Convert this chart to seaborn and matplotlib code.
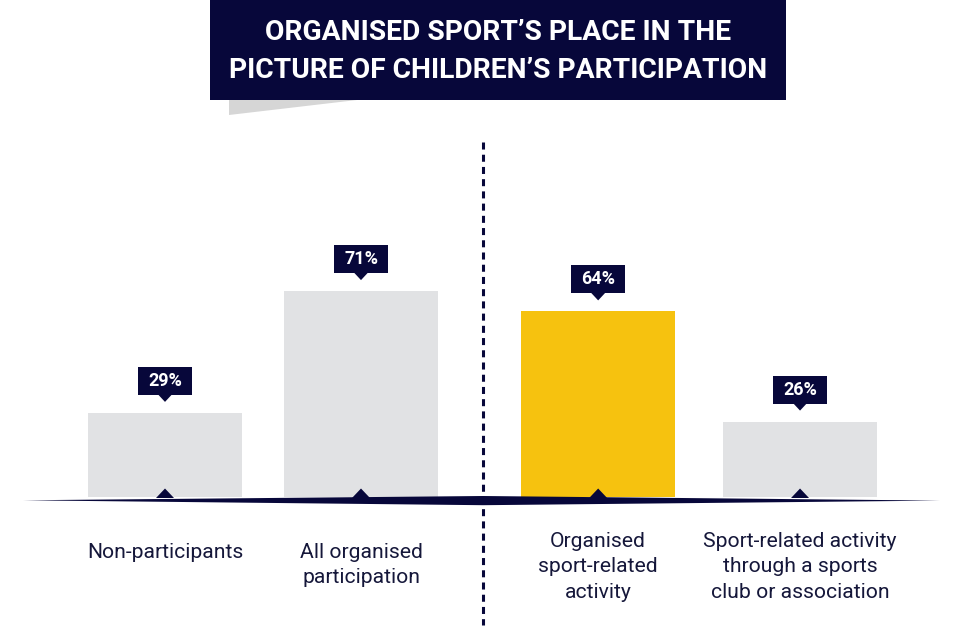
import matplotlib
matplotlib.use("Agg")
import numpy as np
import pandas as pd
import matplotlib.pyplot as plt
import seaborn as sns
from matplotlib.patches import Polygon, Rectangle

# ---- data ----
categories = ["Non-participants",
              "All organised\nparticipation",
              "Organised\nsport-related\nactivity",
              "Sport-related activity\nthrough a sports\nclub or association"]
values = [29, 71, 64, 26]
value_labels = ["29%", "71%", "64%", "26%"]
title_lines = ["ORGANISED SPORT\u2019S PLACE IN THE",
               "PICTURE OF CHILDREN\u2019S PARTICIPATION"]

# ---- layout / style ----
positions = [0.0, 1.0, 2.21, 3.24]
bar_colors = ["#e1e2e4", "#e1e2e4", "#f6c20f", "#e1e2e4"]
NAVY = "#07073a"
TEXT = "#15173a"
W, H = 980, 635
X0_PX, X_SCALE = 165, 196.0
Y0_PX, Y_SCALE = 497, 2.9

sns.set_theme(style="white")
plt.rcParams["font.family"] = ["Roboto", "DejaVu Sans"]

fig = plt.figure(figsize=(W / 100, H / 100), dpi=100)
fig.patch.set_facecolor("white")
ax = fig.add_axes([0, 0, 1, 1])

df = pd.DataFrame({"pos": positions, "value": values, "category": categories})
sns.barplot(data=df, x="pos", y="value", hue="category", palette=bar_colors,
            native_scale=True, width=0.785, dodge=False, legend=False,
            errorbar=None, saturation=1, ax=ax, linewidth=0)
ax.set_xlim(-X0_PX / X_SCALE, (W - X0_PX) / X_SCALE)
ax.set_ylim(-(H - Y0_PX) / Y_SCALE, Y0_PX / Y_SCALE)
ax.axis("off")

# overlay in pixel coordinates
ov = fig.add_axes([0, 0, 1, 1])
ov.set_xlim(0, W)
ov.set_ylim(H, 0)
ov.axis("off")
ov.patch.set_alpha(0)


def to_px(x, y):
    dx, dy = ax.transData.transform((x, y))
    return dx, H - dy


# title box
ov.add_patch(Polygon([(229, 100), (357, 100), (229, 115)], closed=True,
                     facecolor="#d6d6d6", edgecolor="none", zorder=1))
ov.add_patch(Rectangle((210, 0), 576, 100, facecolor=NAVY, edgecolor="none", zorder=2))
ov.text(498, 33, title_lines[0], color="white", fontsize=20.3, fontweight="bold",
        ha="center", va="center", zorder=3)
ov.text(498, 70, title_lines[1], color="white", fontsize=20.3, fontweight="bold",
        ha="center", va="center", zorder=3)

# dashed divider
ov.plot([483, 483], [142, 625], color=NAVY, lw=2.2, ls=(0, (2.3, 1.7)),
        solid_capstyle="butt", zorder=2)

# tapered baseline
ov.add_patch(Polygon([(23, 500.3), (483, 496.0), (940, 500.6), (483, 505.2)],
                     closed=True, facecolor=NAVY, edgecolor="none", zorder=4))

bars = sorted(ax.patches, key=lambda p: p.get_x())
for i, p in enumerate(bars):
    cx_d = p.get_x() + p.get_width() / 2
    cx, top = to_px(cx_d, p.get_height())
    _, base = to_px(cx_d, 0)
    # triangle on baseline
    ov.add_patch(Polygon([(cx - 9, base + 1), (cx + 9, base + 1), (cx, base - 8.5)],
                         closed=True, facecolor=NAVY, edgecolor="none", zorder=5))
    # value label box
    bb = top - 18
    ov.add_patch(Rectangle((cx - 27, bb - 28), 54, 28, facecolor=NAVY,
                           edgecolor="none", zorder=5))
    ov.add_patch(Polygon([(cx - 7, bb - 0.5), (cx + 7, bb - 0.5), (cx, bb + 7)],
                         closed=True, facecolor=NAVY, edgecolor="none", zorder=5))
    ov.text(cx, bb - 14, value_labels[i], color="white", fontsize=13,
            fontweight="bold", ha="center", va="center", zorder=6)
    # category label
    nlines = categories[i].count("\n") + 1
    ytop = 543 if nlines < 3 else 532
    ov.text(cx, ytop, categories[i], color=TEXT, fontsize=15.2, ha="center",
            va="top", linespacing=1.42, zorder=6)

fig.savefig("out.png", dpi=100)
